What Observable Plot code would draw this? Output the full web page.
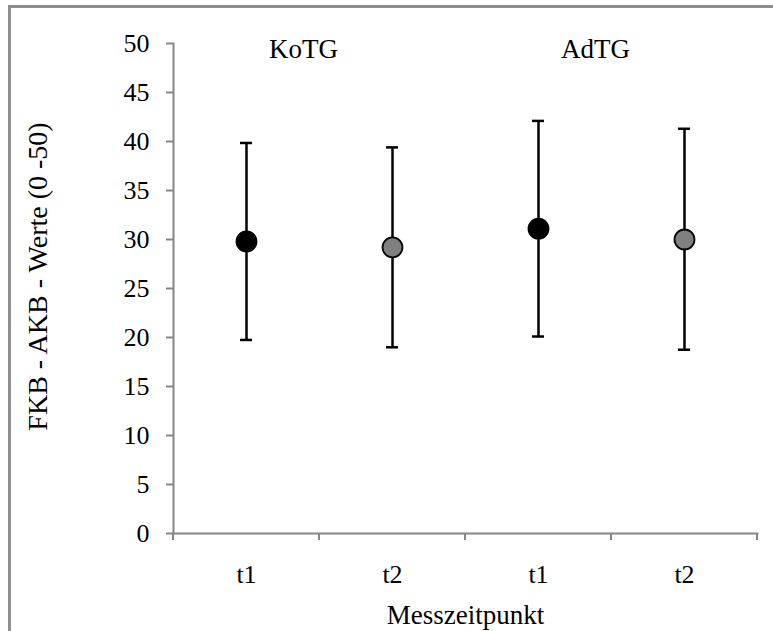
<!DOCTYPE html>
<html>
<head>
<meta charset="utf-8">
<script src="https://cdn.jsdelivr.net/npm/d3@7"></script>
<script src="https://cdn.jsdelivr.net/npm/@observablehq/plot@0.6"></script>
<style>
  html, body { margin: 0; padding: 0; background: #fff; }
  #wrap { position: relative; width: 773px; height: 631px; overflow: hidden; }
  #border { position: absolute; left: 8px; top: 5px; right: -10px; bottom: -10px;
            border-left: 3px solid #8e8e8e; border-top: 3px solid #8e8e8e; pointer-events: none; }
  svg, svg text { font-family: "Liberation Serif", "Times New Roman", serif !important; }
</style>
</head>
<body>
<div id="wrap"><div id="border"></div></div>
<script>
// ---- data ----
const groups = ["KoTG", "KoTG", "AdTG", "AdTG"];
const times  = ["t1", "t2", "t1", "t2"];
const means  = [29.8, 29.2, 31.1, 30.0];
const lower  = [19.75, 19.0, 20.1, 18.75];
const upper  = [39.85, 39.4, 42.1, 41.3];
const yTicks = [0, 5, 10, 15, 20, 25, 30, 35, 40, 45, 50];
const groupLabels = ["KoTG", "AdTG"];
const xTitle = "Messzeitpunkt";
const yTitle = "FKB - AKB - Werte (0 -50)";

const data = groups.map((g, i) => ({
  key: g + "-" + times[i], group: g, time: times[i],
  mean: means[i], lo: lower[i], hi: upper[i]
}));
const domain = data.map(d => d.key);
const labelData = groupLabels.map(g => ({ g, key: g + "-t1" }));

const axisGray = "#868686";
const serif = '"Liberation Serif", "Times New Roman", serif';

// ticks at band boundaries for the category axis
function bandBoundaryTicks(index, scales) {
  const x = scales.x, y = scales.y;
  const step = x(domain[1]) - x(domain[0]);
  const xs = domain.map(d => x(d)).concat([x(domain[domain.length - 1]) + step]);
  const y0 = y(0);
  const g = d3.create("svg:g");
  g.selectAll("line").data(xs).join("line")
    .attr("x1", d => d).attr("x2", d => d)
    .attr("y1", y0).attr("y2", y0 + 7)
    .attr("stroke", axisGray).attr("stroke-width", 2);
  return g.node();
}

const chart = Plot.plot({
  width: 773,
  height: 631,
  marginLeft: 173,
  marginRight: 16,
  marginTop: 43,
  marginBottom: 98,
  style: { fontFamily: serif, background: "transparent", overflow: "visible" },
  x: { type: "band", domain, padding: 0, axis: null },
  y: { domain: [0, 50], axis: null },
  color: { domain: ["t1", "t2"], range: ["#000000", "#808080"] },
  marks: [
    // axis lines
    Plot.frame({ anchor: "left", stroke: axisGray, strokeWidth: 2 }),
    Plot.frame({ anchor: "bottom", stroke: axisGray, strokeWidth: 2 }),
    Plot.axisY({ ticks: yTicks, tickSize: 7, tickPadding: 17, stroke: axisGray, strokeWidth: 2,
                 fontSize: 26, fontFamily: serif, fill: "#000", label: null, tickFormat: d => String(d) }),
    bandBoundaryTicks,
    Plot.axisX({ tickSize: 0, tickPadding: 31, fontSize: 26, fontFamily: serif, fill: "#000", label: null,
                 tickFormat: k => k.split("-")[1] }),
    // error bars
    Plot.ruleX(data, { x: "key", y1: "lo", y2: "hi", stroke: "#000", strokeWidth: 2.5 }),
    Plot.tickY(data, { x: "key", y: "hi", stroke: "#000", strokeWidth: 2.5, insetLeft: 67, insetRight: 67 }),
    Plot.tickY(data, { x: "key", y: "lo", stroke: "#000", strokeWidth: 2.5, insetLeft: 67, insetRight: 67 }),
    // means
    Plot.dot(data, { x: "key", y: "mean", r: 10, fill: "time", stroke: "#000", strokeWidth: 1.8 }),
    // group labels
    Plot.text(labelData, { x: "key", text: "g", frameAnchor: "top", lineAnchor: "middle", dx: 57, dy: 6,
                           fontSize: 27, fontFamily: serif, fill: "#000" }),
    // axis titles
    Plot.text([xTitle], { frameAnchor: "bottom", lineAnchor: "middle", textAnchor: "middle", dy: 82,
                          fontSize: 27, fontFamily: serif, fill: "#000" }),
    Plot.text([yTitle], { frameAnchor: "left", lineAnchor: "middle", textAnchor: "middle", rotate: -90,
                          dx: -135, dy: -12, fontSize: 28, fontFamily: serif, fill: "#000" })
  ]
});
document.getElementById("wrap").prepend(chart);
</script>
</body>
</html>
